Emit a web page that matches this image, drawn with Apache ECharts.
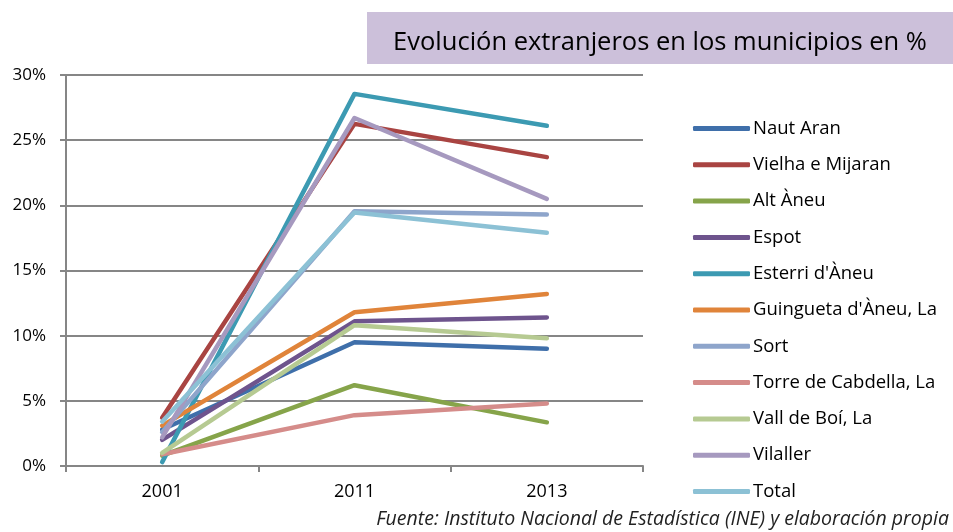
<!DOCTYPE html>
<html><head><meta charset="utf-8">
<script src="https://cdn.jsdelivr.net/npm/echarts@6/dist/echarts.min.js"></script>
<style>html,body{margin:0;padding:0;background:#fff}#c{width:953px;height:532px}</style>
</head><body><div id="c"></div>
<script>
const years = ['2001', '2011', '2013'];
const names = ['Naut Aran','Vielha e Mijaran','Alt Àneu','Espot','Esterri d\'Àneu','Guingueta d\'Àneu, La','Sort','Torre de Cabdella, La','Vall de Boí, La','Vilaller','Total'];
const nautAran   = [2.8, 9.5, 9.0];
const vielha     = [3.7, 26.25, 23.7];
const altAneu    = [0.8, 6.2, 3.35];
const espot      = [2.0, 11.1, 11.4];
const esterri    = [0.3, 28.55, 26.1];
const guingueta  = [3.1, 11.8, 13.2];
const sort       = [2.6, 19.55, 19.3];
const torre      = [0.9, 3.9, 4.8];
const vallBoi    = [1.0, 10.8, 9.8];
const vilaller   = [2.2, 26.7, 20.5];
const total      = [3.4, 19.45, 17.9];
const values = [nautAran, vielha, altAneu, espot, esterri, guingueta, sort, torre, vallBoi, vilaller, total];
const colors = ['#3F6FAA','#A94442','#86A44A','#6E548D','#3C9AB2','#E0843A','#8EA5CB','#D58C8A','#B6CA92','#A699BF','#8CC1D5'];

const chart = echarts.init(document.getElementById('c'));
const font = 'Open Sans, Noto Sans, sans-serif';
chart.setOption({
  animation: false,
  grid: {left: 66, right: 310, top: 75, bottom: 66},
  xAxis: {
    type: 'category', data: years, boundaryGap: true,
    axisLine: {lineStyle: {color: '#868686', width: 2}},
    axisTick: {show: true, length: 6, lineStyle: {color: '#868686', width: 2}},
    axisLabel: {color: '#000', fontSize: 18, fontFamily: font, margin: 17}
  },
  yAxis: {
    type: 'value', min: 0, max: 30, interval: 5,
    axisLine: {show: true, lineStyle: {color: '#868686', width: 2}},
    axisTick: {show: true, length: 6, lineStyle: {color: '#868686', width: 2}},
    axisLabel: {color: '#000', fontSize: 17, fontFamily: font, margin: 20, formatter: v => v + '%'},
    splitLine: {lineStyle: {color: '#868686', width: 2}}
  },
  legend: {
    orient: 'vertical', left: 688, top: 113, itemGap: 15.3,
    itemWidth: 57, itemHeight: 5,
    icon: 'roundRect',
    textStyle: {color: '#000', fontSize: 18.5, fontFamily: font, lineHeight: 21, padding: [0,0,0,-2]},
    data: names.map((n,i)=>({name:n, itemStyle:{color: colors[i]}}))
  },
  graphic: [
    {type:'rect', shape:{x:367, y:12, width:586, height:52}, style:{fill:'#CCC0DA'}, z:10},
    {type:'text', x:660, y:43, style:{text:'Evolución extranjeros en los municipios en %', fontSize:25.5, fontFamily:font, fill:'#000', textAlign:'center', textVerticalAlign:'middle'}, z:11},
    {type:'text', x:949, y:519, style:{text:'Fuente: Instituto Nacional de Estadística (INE) y elaboración propia', fontSize:19.5, fontStyle:'italic', fontFamily:font, fill:'#222', textAlign:'right', textVerticalAlign:'middle'}, z:11}
  ],
  series: names.map((n,i)=>({
    name: n, type: 'line', data: values[i], symbol: 'none',
    lineStyle: {color: colors[i], width: 4.5, cap: 'round', join: 'round'},
    itemStyle: {color: colors[i]}
  }))
});
</script></body></html>
